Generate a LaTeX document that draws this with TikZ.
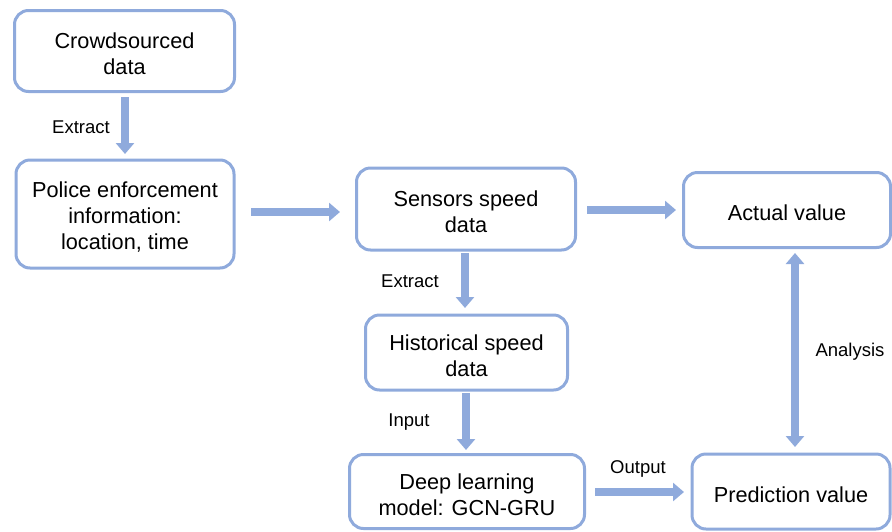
\documentclass[tikz,border=0pt]{standalone}
\usepackage{fontspec}
\setmainfont{Liberation Sans}
\usetikzlibrary{arrows.meta}
\definecolor{edge}{HTML}{8FAADC}
\begin{document}
\begin{tikzpicture}[x=1pt,y=-1pt,
  box/.style={draw=edge,line width=3pt,rounded corners=14pt,fill=white,inner sep=0pt},
  txt/.style={align=center,font=\fontsize{21.7}{26}\selectfont,inner sep=0pt,yshift=-3pt},
  flow/.style={draw=edge,line width=8.5pt,-{Triangle[width=18pt,length=11pt]}},
  both/.style={draw=edge,line width=8.5pt,{Triangle[width=18pt,length=11pt]}-{Triangle[width=18pt,length=11pt]}},
  lab/.style={font=\fontsize{18.5}{22}\selectfont,inner sep=0pt}]
\useasboundingbox (0,0) rectangle (892,531);
\node[box,minimum width=220pt,minimum height=81pt,label={[txt]center:{Crowdsourced\\data}}] (crowd) at (124.5,51) {};
\node[box,minimum width=218pt,minimum height=108pt,label={[txt]center:{Police enforcement\\information:\\location, time}}] (police) at (125,214) {};
\node[box,minimum width=219pt,minimum height=82pt,label={[txt]center:{Sensors speed\\data}}] (sensor) at (466,209) {};
\node[box,minimum width=207pt,minimum height=75pt,label={[txt]center:{Actual value}}] (actual) at (787,210) {};
\node[box,minimum width=202pt,minimum height=75pt,label={[txt]center:{Historical speed\\data}}] (hist) at (466.5,352.5) {};
\node[box,minimum width=235pt,minimum height=74pt,label={[txt]center:{Deep learning\\model: GCN-GRU}}] (deep) at (467,491.5) {};
\node[box,minimum width=198pt,minimum height=75pt,label={[txt]center:{Prediction value}}] (pred) at (791,491.5) {};
\coordinate (a1s) at (125,97); \coordinate (a1e) at (125,154);
\coordinate (a2s) at (251,212); \coordinate (a2e) at (340,212);
\coordinate (a3s) at (587,210); \coordinate (a3e) at (676,210);
\coordinate (a4s) at (465,253); \coordinate (a4e) at (465,308);
\coordinate (a5s) at (466,393); \coordinate (a5e) at (466,450);
\coordinate (a6s) at (595,492); \coordinate (a6e) at (684,492);
\coordinate (a7s) at (795,253); \coordinate (a7e) at (795,447);
\draw[flow] (a1s) -- (a1e);
\draw[flow] (a2s) -- (a2e);
\draw[flow] (a3s) -- (a3e);
\draw[flow] (a4s) -- (a4e);
\draw[flow] (a5s) -- (a5e);
\draw[flow] (a6s) -- (a6e);
\draw[both] (a7s) -- (a7e);
\node[lab] (l1) at (81,127) {Extract};
\node[lab] (l2) at (410,281) {Extract};
\node[lab] (l3) at (409,422) {Input};
\node[lab] (l4) at (638,469) {Output};
\node[lab] (l5) at (850,352) {Analysis};
\end{tikzpicture}
\end{document}
